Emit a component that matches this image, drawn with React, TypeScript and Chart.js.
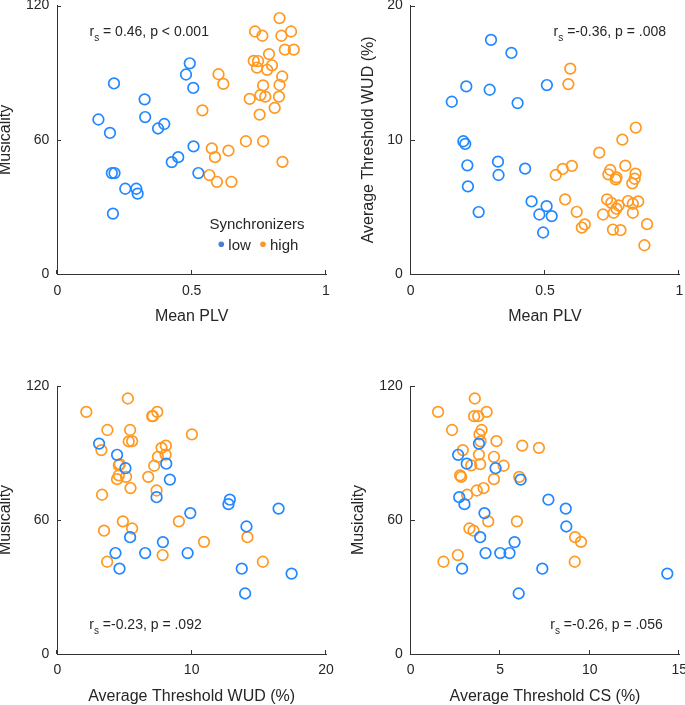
import React, { useEffect, useRef } from "react";
import { Chart, registerables } from "chart.js";

Chart.register(...registerables);

// ---------- data: low synchronizers (one entry per participant) ----------
const lowPLV = [0.211, 0.153, 0.196, 0.325, 0.327, 0.375, 0.398, 0.493, 0.479, 0.506, 0.507, 0.45, 0.426, 0.525, 0.203, 0.213, 0.253, 0.294, 0.299, 0.207];
const lowMusicality = [85.2, 69.1, 63.1, 78.1, 70.2, 65.1, 67.1, 94.2, 89.2, 83.2, 57.1, 52.3, 50.1, 45.2, 45.2, 45.2, 38.2, 38.2, 36.0, 27.1];
const lowWUD = [8.11, 12.84, 9.9, 8.38, 7.39, 16.47, 12.74, 3.11, 4.45, 5.07, 14.08, 5.42, 7.86, 4.33, 9.7, 6.54, 4.63, 13.73, 17.44, 13.98];
const lowCS = [3.13, 7.69, 4.12, 6.14, 2.71, 8.66, 3.0, 3.81, 2.65, 4.74, 8.69, 3.88, 5.8, 4.18, 5.0, 5.52, 2.87, 7.35, 14.33, 6.03];

// ---------- data: high synchronizers ----------
const highPLV = [0.54, 0.566, 0.575, 0.587, 0.594, 0.6, 0.618, 0.637, 0.648, 0.736, 0.87, 0.763, 0.834, 0.847, 0.88, 0.788, 0.731, 0.747, 0.799, 0.743, 0.781, 0.837, 0.766, 0.827, 0.827, 0.756, 0.774, 0.825, 0.716, 0.809, 0.753, 0.702, 0.766, 0.838];
const highMusicality = [73.2, 44.3, 56.2, 52.3, 41.3, 89.3, 85.0, 55.2, 41.3, 108.4, 108.4, 106.5, 106.5, 100.3, 100.3, 98.3, 95.3, 95.2, 93.3, 92.3, 91.3, 88.3, 84.3, 84.5, 114.4, 80.0, 79.3, 79.3, 78.3, 74.3, 71.3, 59.4, 59.4, 50.2];
const highWUD = [7.39, 7.84, 5.57, 14.15, 15.3, 8.06, 4.65, 3.48, 3.71, 7.44, 2.16, 7.06, 7.11, 5.42, 3.73, 10.02, 5.57, 5.32, 8.08, 7.76, 3.28, 7.49, 7.21, 4.58, 5.25, 4.58, 5.12, 6.77, 4.45, 5.45, 3.33, 9.05, 4.88, 10.92];
const highCS = [3.69, 2.63, 3.28, 9.18, 9.16, 3.81, 3.88, 3.51, 1.83, 4.24, 1.53, 3.54, 3.77, 2.31, 3.96, 3.84, 4.79, 3.9, 6.23, 7.16, 2.91, 4.65, 5.19, 3.38, 3.58, 2.76, 2.82, 6.06, 4.65, 4.07, 3.15, 5.93, 4.33, 9.51];

// ---------- tick values ----------
const plvTicks = [0, 0.5, 1];
const musicalityTicks = [0, 60, 120];
const wudTicks = [0, 10, 20];
const csTicks = [0, 5, 10, 15];

// ---------- labels ----------
const groupLabels = ["low", "high"];
const legendTitle = "Synchronizers";

const FONT = "'Liberation Sans', Arial, Helvetica, sans-serif";
const TEXT = "#262626";
const AXIS = "#333333";
const BLUE = "#2288FF";
const ORANGE = "#FF9922";
const BLUE_DOT = "#4A7FD4";
const ORANGE_DOT = "#F59A2C";

type Key = "plv" | "mus" | "wud" | "cs";

const groups = [
  { label: groupLabels[0], color: BLUE, dot: BLUE_DOT, values: { plv: lowPLV, mus: lowMusicality, wud: lowWUD, cs: lowCS } },
  { label: groupLabels[1], color: ORANGE, dot: ORANGE_DOT, values: { plv: highPLV, mus: highMusicality, wud: highWUD, cs: highCS } },
];

type Panel = {
  box: { left: number; top: number; width: number; height: number };
  area: { left: number; top: number; right: number; bottom: number };
  x: { key: Key; min: number; max: number; ticks: number[]; title: string; titlePad: number };
  y: { key: Key; min: number; max: number; ticks: number[]; title: string; titlePad: number };
  stat: { rest: string; x: number; y: number; align: "left" | "right" };
  legend: boolean;
};

const panels: Panel[] = [
  {
    box: { left: 0, top: 0, width: 340, height: 350 },
    area: { left: 57.3, top: 5.5, right: 326, bottom: 274.3 },
    x: { key: "plv", min: 0, max: 1, ticks: plvTicks, title: "Mean PLV", titlePad: 25.7 },
    y: { key: "mus", min: 0, max: 120, ticks: musicalityTicks, title: "Musicality", titlePad: -2 },
    stat: { rest: " = 0.46, p < 0.001", x: 89.5, y: 35.5, align: "left" },
    legend: true,
  },
  {
    box: { left: 340, top: 0, width: 345, height: 350 },
    area: { left: 70.7, top: 5.5, right: 339.3, bottom: 274.3 },
    x: { key: "plv", min: 0, max: 1, ticks: plvTicks, title: "Mean PLV", titlePad: 25.7 },
    y: { key: "wud", min: 0, max: 20, ticks: wudTicks, title: "Average Threshold WUD (%)", titlePad: 20.7 },
    stat: { rest: " =-0.36, p = .008", x: 326, y: 35.5, align: "right" },
    legend: false,
  },
  {
    box: { left: 0, top: 350, width: 340, height: 355 },
    area: { left: 57.3, top: 36, right: 326, bottom: 304 },
    x: { key: "wud", min: 0, max: 20, ticks: wudTicks, title: "Average Threshold WUD (%)", titlePad: 0.3 },
    y: { key: "mus", min: 0, max: 120, ticks: musicalityTicks, title: "Musicality", titlePad: -2 },
    stat: { rest: " =-0.23, p = .092", x: 89.3, y: 279.3, align: "left" },
    legend: false,
  },
  {
    box: { left: 340, top: 350, width: 345, height: 355 },
    area: { left: 70.7, top: 36, right: 339.3, bottom: 304 },
    x: { key: "cs", min: 0, max: 15, ticks: csTicks, title: "Average Threshold CS (%)", titlePad: 0.3 },
    y: { key: "mus", min: 0, max: 120, ticks: musicalityTicks, title: "Musicality", titlePad: 11 },
    stat: { rest: " =-0.26, p = .056", x: 322.7, y: 279.3, align: "right" },
    legend: false,
  },
];

const inwardTicks = {
  id: "inwardTicks",
  afterDraw(chart: any) {
    const ctx = chart.ctx;
    const xs = chart.scales.x;
    const ys = chart.scales.y;
    const a = chart.chartArea;
    ctx.save();
    ctx.strokeStyle = AXIS;
    ctx.lineWidth = 1;
    ctx.beginPath();
    xs.ticks.forEach((t: any) => {
      const px = Math.round(xs.getPixelForValue(t.value)) - 0.5;
      const by = Math.round(a.bottom);
      ctx.moveTo(px, by);
      ctx.lineTo(px, by - 4);
    });
    ys.ticks.forEach((t: any) => {
      const py = Math.round(ys.getPixelForValue(t.value)) + 0.5;
      const lx = Math.round(a.left);
      ctx.moveTo(lx, py);
      ctx.lineTo(lx + 4, py);
    });
    ctx.stroke();
    ctx.restore();
  },
};

const panelText = {
  id: "panelText",
  afterDraw(chart: any, _args: any, opts: any) {
    const ctx = chart.ctx;
    const stat = opts.stat;
    ctx.save();
    ctx.fillStyle = TEXT;
    ctx.textBaseline = "alphabetic";
    ctx.textAlign = "left";
    const big = `14px ${FONT}`;
    const small = `10px ${FONT}`;
    ctx.font = big;
    const wr = ctx.measureText("r").width;
    const wRest = ctx.measureText(stat.rest).width;
    ctx.font = small;
    const ws = ctx.measureText("s").width;
    const total = wr + ws + wRest;
    let x = stat.align === "right" ? stat.x - total : stat.x;
    ctx.font = big;
    ctx.fillText("r", x, stat.y);
    x += wr;
    ctx.font = small;
    ctx.fillText("s", x, stat.y + 5);
    x += ws;
    ctx.font = big;
    ctx.fillText(stat.rest, x, stat.y);

    if (opts.legend) {
      const a = chart.chartArea;
      const cx = a.left + 199.7;
      ctx.font = `15px ${FONT}`;
      ctx.textAlign = "center";
      ctx.fillText(legendTitle, cx, a.bottom - 45);
      ctx.textAlign = "left";
      const items = chart.data.datasets;
      const dotY = a.bottom - 30;
      const textY = a.bottom - 24.3;
      const starts = [a.left + 164, a.left + 205.7];
      items.forEach((ds: any, i: number) => {
        ctx.fillStyle = groups[i].dot;
        ctx.beginPath();
        ctx.arc(starts[i], dotY, 2.8, 0, Math.PI * 2);
        ctx.fill();
        ctx.fillStyle = TEXT;
        ctx.fillText(ds.label, starts[i] + 7, textY);
      });
    }
    ctx.restore();
  },
};

function buildConfig(p: Panel): any {
  const w = p.box.width;
  const h = p.box.height;
  const tickFont = { family: FONT, size: 14 };
  const titleFont = { family: FONT, size: 16, lineHeight: 1 };
  const fmt = (v: any) => String(Number(v));
  return {
    type: "scatter",
    data: {
      datasets: groups.map((g) => ({
        label: g.label,
        data: g.values[p.x.key].map((v: number, i: number) => ({ x: v, y: g.values[p.y.key][i] })),
        pointStyle: "circle",
        pointRadius: 5.3,
        pointHoverRadius: 5.3,
        pointBackgroundColor: "rgba(0,0,0,0)",
        pointBorderColor: g.color,
        pointBorderWidth: 1.7,
        showLine: false,
      })),
    },
    options: {
      responsive: false,
      animation: false,
      events: [],
      layout: {
        autoPadding: false,
        padding: { left: 0, top: p.area.top, right: w - p.area.right, bottom: 0 },
      },
      plugins: {
        legend: { display: false },
        tooltip: { enabled: false },
        panelText: { stat: p.stat, legend: p.legend },
      },
      scales: {
        x: {
          type: "linear",
          position: "bottom",
          min: p.x.min,
          max: p.x.max,
          afterFit: (s: any) => {
            s.height = h - p.area.bottom;
            s.paddingLeft = 0;
            s.paddingRight = 0;
            s.paddingTop = 0;
            s.paddingBottom = 0;
          },
          afterBuildTicks: (s: any) => {
            s.ticks = p.x.ticks.map((v) => ({ value: v }));
          },
          grid: { display: false, drawTicks: false },
          border: { display: true, color: AXIS, width: 1 },
          ticks: { color: TEXT, font: tickFont, padding: 8, maxRotation: 0, autoSkip: false, callback: fmt },
          title: {
            display: true,
            text: p.x.title,
            color: TEXT,
            font: titleFont,
            padding: { top: 0, bottom: p.x.titlePad },
          },
        },
        y: {
          type: "linear",
          position: "left",
          min: p.y.min,
          max: p.y.max,
          afterFit: (s: any) => {
            s.width = p.area.left;
            s.paddingLeft = 0;
            s.paddingRight = 0;
            s.paddingTop = 0;
            s.paddingBottom = 0;
          },
          afterBuildTicks: (s: any) => {
            s.ticks = p.y.ticks.map((v) => ({ value: v }));
          },
          grid: { display: false, drawTicks: false },
          border: { display: true, color: AXIS, width: 1 },
          ticks: { color: TEXT, font: tickFont, padding: 8, autoSkip: false, callback: fmt },
          title: {
            display: true,
            text: p.y.title,
            color: TEXT,
            font: titleFont,
            padding: { top: p.y.titlePad, bottom: 0 },
          },
        },
      },
    },
    plugins: [inwardTicks, panelText],
  };
}

function PanelChart({ panel }: { panel: Panel }) {
  const ref = useRef<HTMLCanvasElement | null>(null);
  useEffect(() => {
    if (!ref.current) return;
    const chart = new Chart(ref.current, buildConfig(panel));
    return () => chart.destroy();
  }, [panel]);
  return (
    <canvas
      ref={ref}
      width={panel.box.width}
      height={panel.box.height}
      style={{
        position: "absolute",
        left: panel.box.left,
        top: panel.box.top,
        width: panel.box.width,
        height: panel.box.height,
      }}
    />
  );
}

export default function App() {
  return (
    <div style={{ position: "absolute", left: 0, top: 0, width: 685, height: 705, background: "#ffffff", overflow: "hidden" }}>
      {panels.map((p, i) => (
        <PanelChart key={i} panel={p} />
      ))}
    </div>
  );
}
